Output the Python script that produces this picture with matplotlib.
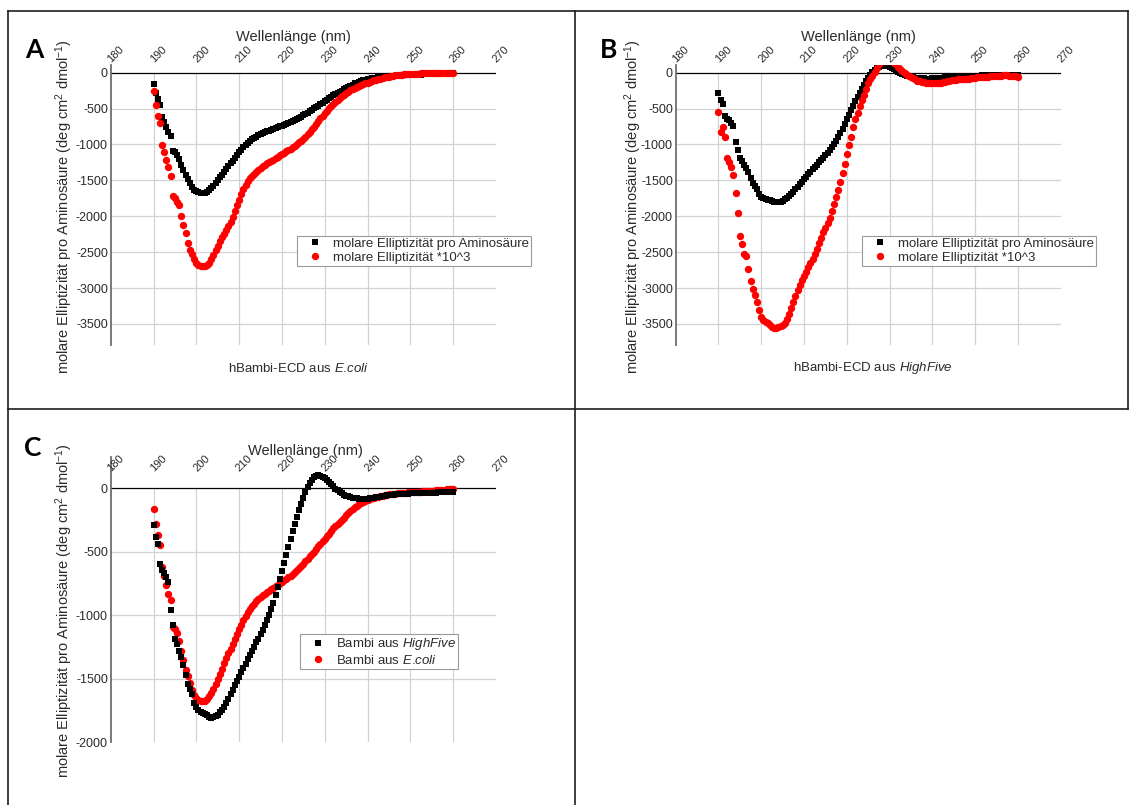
import numpy as np
import matplotlib
matplotlib.use("Agg")
import matplotlib.pyplot as plt
from matplotlib.lines import Line2D

plt.rcParams["font.family"] = ["Liberation Sans", "DejaVu Sans"]
plt.rcParams["mathtext.fontset"] = "custom"
plt.rcParams["mathtext.rm"] = "Liberation Sans"
plt.rcParams["mathtext.it"] = "Liberation Sans:italic"
plt.rcParams["mathtext.bf"] = "Liberation Sans:bold"
plt.rcParams["axes.unicode_minus"] = False

# ---------------------------------------------------------------- data
# CD spectra, 190-260 nm in 0.5 nm steps
wavelength = np.arange(190.0, 260.25, 0.5)

# hBambi-ECD from E. coli: mean residue ellipticity
ecoli_per_residue = [
    -160, -280, -370, -450, -620, -690, -760, -830, -880, -1090,
    -1110, -1140, -1200, -1280, -1350, -1430, -1480, -1530, -1590, -1630,
    -1655, -1668, -1675, -1678, -1672, -1660, -1635, -1610, -1578, -1540,
    -1500, -1460, -1420, -1378, -1340, -1300, -1262, -1225, -1190, -1150,
    -1110, -1075, -1040, -1005, -975, -950, -928, -908, -890, -872,
    -857, -843, -830, -818, -806, -795, -784, -772, -760, -748,
    -737, -726, -715, -700, -688, -674, -660, -645, -628, -611,
    -594, -575, -556, -537, -517, -498, -478, -458, -438, -418,
    -398, -378, -358, -338, -316, -300, -283, -266, -250, -233,
    -214, -198, -182, -165, -150, -138, -125, -115, -105, -97,
    -90, -84, -79, -75, -71, -67, -63, -59, -55, -52,
    -49, -47, -45, -43, -41, -39, -37, -35, -34, -33,
    -32, -30, -29, -28, -27, -26, -25, -24, -23, -22,
    -20, -18, -17, -15, -13, -11, -10, -8, -6, -4,
    -2,
]

# hBambi-ECD from E. coli: molar ellipticity *10^3
ecoli_molar = [
    -250, -450, -600, -700, -1010, -1100, -1220, -1320, -1440, -1720,
    -1750, -1800, -1850, -1990, -2120, -2240, -2370, -2470, -2520, -2590,
    -2650, -2678, -2690, -2692, -2688, -2675, -2645, -2600, -2540, -2475,
    -2410, -2350, -2295, -2245, -2195, -2140, -2080, -2010, -1930, -1850,
    -1770, -1690, -1620, -1560, -1510, -1470, -1440, -1412, -1385, -1358,
    -1330, -1305, -1282, -1262, -1243, -1226, -1210, -1192, -1172, -1152,
    -1132, -1113, -1096, -1080, -1062, -1040, -1015, -990, -962, -946,
    -930, -895, -860, -825, -790, -750, -712, -675, -638, -600,
    -565, -530, -497, -465, -435, -405, -378, -352, -328, -306,
    -285, -265, -246, -228, -212, -197, -183, -170, -158, -147,
    -137, -127, -117, -108, -99, -90, -82, -74, -67, -60,
    -54, -48, -43, -38, -34, -30, -27, -24, -22, -20,
    -18, -16, -14, -13, -12, -11, -10, -9, -8, -7,
    -6, -5, -5, -4, -3, -3, -2, -2, -1, 0,
    0,
]

# hBambi-ECD from HighFive cells: mean residue ellipticity
highfive_per_residue = [
    -290, -380, -440, -600, -640, -665, -700, -740, -960, -1080,
    -1190, -1230, -1285, -1330, -1390, -1470, -1540, -1580, -1620, -1690,
    -1725, -1745, -1758, -1768, -1778, -1788, -1798, -1805, -1802, -1795,
    -1785, -1765, -1745, -1720, -1690, -1658, -1622, -1588, -1552, -1518,
    -1483, -1448, -1413, -1380, -1347, -1313, -1280, -1248, -1213, -1185,
    -1150, -1115, -1080, -1040, -995, -950, -900, -840, -780, -715,
    -650, -585, -525, -462, -400, -340, -285, -230, -175, -122,
    -75, -32, 8, 40, 65, 85, 97, 102, 100, 92,
    80, 65, 48, 30, 14, -2, -15, -28, -40, -50,
    -58, -64, -69, -73, -76, -79, -81, -82, -82, -82,
    -81, -79, -77, -75, -72, -69, -66, -63, -60, -57,
    -55, -53, -51, -49, -47, -46, -45, -44, -43, -42,
    -41, -40, -40, -39, -39, -38, -38, -37, -36, -36,
    -35, -34, -34, -33, -33, -32, -32, -31, -31, -30,
    -30,
]

# hBambi-ECD from HighFive cells: molar ellipticity *10^3
highfive_molar = [
    -545, -825, -760, -900, -1190, -1240, -1310, -1430, -1680, -1950,
    -2270, -2390, -2530, -2560, -2740, -2900, -3020, -3090, -3200, -3300,
    -3410, -3440, -3470, -3490, -3520, -3540, -3552, -3555, -3545, -3532,
    -3510, -3480, -3430, -3360, -3280, -3195, -3115, -3030, -2955, -2890,
    -2830, -2770, -2710, -2650, -2590, -2525, -2450, -2375, -2300, -2225,
    -2160, -2095, -2020, -1930, -1830, -1735, -1640, -1520, -1400, -1270,
    -1130, -1010, -890, -760, -650, -555, -470, -385, -310, -225,
    -150, -95, -50, 5, 70, 125, 160, 168, 168, 166,
    163, 158, 140, 115, 85, 55, 25, -5, -33, -50,
    -62, -75, -95, -110, -120, -128, -135, -140, -145, -148,
    -149, -148, -145, -141, -137, -133, -128, -122, -112, -105,
    -100, -97, -94, -92, -91, -90, -89, -82, -75, -71,
    -68, -67, -66, -64, -60, -57, -54, -50, -48, -46,
    -44, -42, -40, -39, -37, -38, -41, -44, -47, -52,
    -56,
]

x_ticks = [180, 190, 200, 210, 220, 230, 240, 250, 260, 270]
x_grid = [190, 200, 210, 220, 230, 240, 250, 260]
y_ticks_ab = [0, -500, -1000, -1500, -2000, -2500, -3000, -3500]
y_ticks_c = [0, -500, -1000, -1500, -2000]

label_per_residue = "molare Elliptizität pro Aminosäure"
label_molar = "molare Elliptizität *10^3"
label_highfive = r"Bambi aus $\mathit{HighFive}$"
label_ecoli = r"Bambi aus $\mathit{E}$.$\mathit{coli}$"
x_title = "Wellenlänge (nm)"
y_title = r"molare Elliptizität pro Aminosäure (deg cm$^2$ dmol$^{-1}$)"

# ---------------------------------------------------------------- figure
W, H = 1131, 805
fig = plt.figure(figsize=(W / 100, H / 100), dpi=100)
fig.patch.set_facecolor("white")

TXT = "#2b2b2b"
RED = "#ff0000"
TICK_LABEL_Y = 115  # wavelength labels sit just above the zero line


def fx(x):
    return x / W


def fy(y):
    return 1 - y / H


def frame_line(x0, y0, x1, y1):
    fig.add_artist(Line2D([fx(x0), fx(x1)], [fy(y0), fy(y1)],
                          transform=fig.transFigure, color="#1e1e1e", lw=1.2))


def spectrum_axes(left, top, right, bottom, ylim, yticks):
    ax = fig.add_axes([fx(left), fy(bottom), (right - left) / W, (bottom - top) / H])
    ax.set_xlim(180, 270)
    ax.set_ylim(*ylim)
    ax.set_facecolor("none")
    for side in ("top", "right", "bottom"):
        ax.spines[side].set_visible(False)
    ax.spines["left"].set_color("#6e6e6e")
    ax.spines["left"].set_linewidth(1.3)
    ax.vlines(x_grid, ylim[0], 0, color="#d2d2d2", lw=0.9, zorder=0)
    hgrid = [v for v in yticks if v != 0 and v > ylim[0]]
    ax.hlines(hgrid, 180, 270, color="#d2d2d2", lw=0.9, zorder=0)
    ax.axhline(0, color="black", lw=0.9, zorder=1)
    ax.set_xticks([])
    for xv in x_ticks:
        ax.text(xv + 0.5, TICK_LABEL_Y, str(xv), rotation=45, ha="left", va="bottom",
                rotation_mode="anchor", fontsize=8, color=TXT, clip_on=False)
    ax.set_yticks(yticks)
    ax.tick_params(axis="y", length=0, pad=2.0, labelsize=9, colors=TXT)
    return ax


def add_legend(ax, handles, labels, left, top):
    leg = ax.legend(handles, labels, loc="upper left",
                    bbox_to_anchor=(fx(left), fy(top)), bbox_transform=fig.transFigure,
                    borderaxespad=0, fontsize=9.5, frameon=True, fancybox=False,
                    framealpha=1, edgecolor="#9a9a9a", borderpad=0.15,
                    labelspacing=0.12, handlelength=2.4, handletextpad=0.2,
                    numpoints=1)
    leg.get_frame().set_linewidth(0.8)
    for t in leg.get_texts():
        t.set_color(TXT)
    return leg


sq = dict(marker="s", ls="none", color="black", ms=4.5, mew=0)
ci = dict(marker="o", ls="none", color=RED, ms=5.3, mew=0)


def hd(style):
    return Line2D([], [], **style)


def panel_texts(spine_x, ylab_x, ylab_y, xlab_y, xlab_dx, letter, letter_xy):
    fig.text(fx(spine_x + xlab_dx), fy(xlab_y), x_title, ha="center", va="center",
             fontsize=10.5, color=TXT)
    fig.text(fx(ylab_x), fy(ylab_y), y_title, ha="center", va="center",
             rotation=90, fontsize=10.5, color=TXT)
    fig.text(fx(letter_xy[0]), fy(letter_xy[1]), letter, ha="center", va="center",
             fontsize=19, fontweight="bold", family=["Lato", "DejaVu Sans"], color="black")


# panel frames
frame_line(7.5, 11, 1128, 11)
frame_line(7.5, 11, 7.5, 805)
frame_line(7.5, 409, 1128, 409)
frame_line(575, 11, 575, 805)
frame_line(1128, 11, 1128, 409)

# ---------------- A: E. coli
axA = spectrum_axes(110.7, 65.5, 496, 345.5, (-3800, 100), y_ticks_ab)
axA.plot(wavelength, ecoli_per_residue, zorder=3, **sq)
axA.plot(wavelength, ecoli_molar, zorder=4, **ci)
add_legend(axA, [hd(sq), hd(ci)], [label_per_residue, label_molar], 296.7, 235.7)
panel_texts(110.7, 64, 207, 37, 182.3, "A", (34, 50))
fig.text(fx(110.7 + 117.3), fy(368), r"hBambi-ECD aus $\mathit{E}$.$\mathit{coli}$",
         ha="left", va="center", fontsize=9.5, color=TXT)

# ---------------- B: HighFive
axB = spectrum_axes(675.7, 65.5, 1060.7, 345.5, (-3800, 100), y_ticks_ab)
axB.plot(wavelength, highfive_per_residue, zorder=3, **sq)
axB.plot(wavelength, highfive_molar, zorder=4, **ci)
add_legend(axB, [hd(sq), hd(ci)], [label_per_residue, label_molar], 862, 235.7)
panel_texts(675.7, 633, 207, 37, 182.3, "B", (609, 50))
fig.text(fx(675.7 + 117.3), fy(368), r"hBambi-ECD aus $\mathit{HighFive}$",
         ha="left", va="center", fontsize=9.5, color=TXT)

# ---------------- C: comparison of both preparations
axC = spectrum_axes(110.7, 456.5, 496, 742.3, (-2000, 250), y_ticks_c)
axC.plot(wavelength, ecoli_per_residue, zorder=3, **ci)
axC.plot(wavelength, highfive_per_residue, zorder=4, **sq)
add_legend(axC, [hd(sq), hd(ci)], [label_highfive, label_ecoli], 300, 634.3)
panel_texts(110.7, 64, 611, 451, 194.3, "C", (33, 448))

fig.savefig("out.png", dpi=100, facecolor="white")
